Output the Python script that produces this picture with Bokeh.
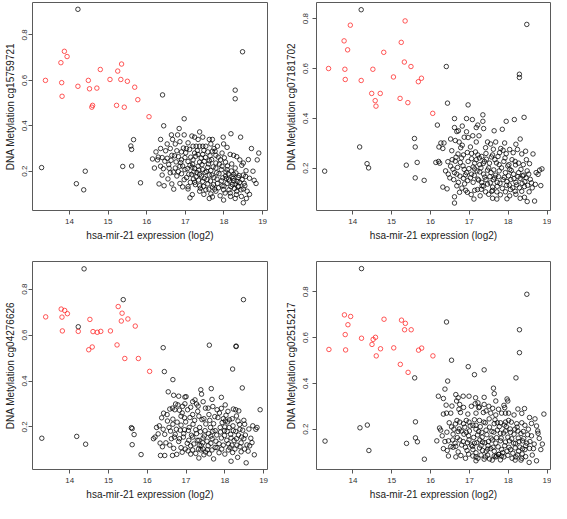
from bokeh.plotting import figure
from bokeh.layouts import column, row
from bokeh.models import FixedTicker, Range1d
from bokeh.embed import file_html
from bokeh.resources import INLINE

x_title = "hsa-mir-21 expression (log2)"
probes = ["cg15759721", "cg07181702", "cg04276626", "cg02515217"]
x_ticks = [14, 15, 16, 17, 18, 19]
y_ticks = [0.2, 0.4, 0.6, 0.8]

# samples with low miR-21 expression (red), same x in every panel
red_x = [13.38, 13.78, 13.80, 13.81, 13.87, 13.94, 14.22, 14.49, 14.52, 14.58, 14.60, 14.71,
         14.80, 15.05, 15.22, 15.25, 15.33, 15.35, 15.42, 15.50, 15.69, 15.77, 16.06]
red_y1 = [0.600, 0.678, 0.590, 0.530, 0.728, 0.705, 0.574, 0.600, 0.563, 0.482, 0.490, 0.566,
          0.648, 0.604, 0.490, 0.641, 0.604, 0.672, 0.482, 0.596, 0.570, 0.515, 0.440]
red_y2 = [0.600, 0.711, 0.597, 0.556, 0.675, 0.774, 0.552, 0.500, 0.597, 0.471, 0.449, 0.500,
          0.665, 0.566, 0.480, 0.705, 0.626, 0.791, 0.463, 0.608, 0.547, 0.561, 0.420]
red_y3 = [0.679, 0.713, 0.678, 0.618, 0.707, 0.693, 0.616, 0.536, 0.668, 0.548, 0.615, 0.612,
          0.616, 0.618, 0.557, 0.724, 0.661, 0.695, 0.498, 0.670, 0.639, 0.498, 0.442]
red_y4 = [0.548, 0.699, 0.613, 0.546, 0.656, 0.692, 0.597, 0.570, 0.592, 0.601, 0.520, 0.551,
          0.680, 0.555, 0.483, 0.676, 0.634, 0.662, 0.448, 0.634, 0.545, 0.554, 0.520]

# other samples outside the main cloud, same x in every panel
out_x = [13.28, 14.18, 14.22, 14.37, 14.41, 15.38, 15.59, 15.61, 15.61, 15.66, 15.84, 16.41,
         16.44, 16.97, 18.29, 18.29, 18.48]
out_y1 = [0.216, 0.145, 0.913, 0.118, 0.200, 0.221, 0.311, 0.296, 0.223, 0.339, 0.149, 0.536,
          0.400, 0.431, 0.557, 0.519, 0.726]
out_y2 = [0.188, 0.285, 0.836, 0.218, 0.201, 0.212, 0.319, 0.285, 0.161, 0.223, 0.151, 0.608,
          0.461, 0.454, 0.577, 0.564, 0.777]
out_y3 = [0.151, 0.159, 0.636, 0.888, 0.125, 0.754, 0.197, 0.193, 0.123, 0.167, 0.080, 0.545,
          0.441, 0.330, 0.552, 0.550, 0.754]
out_y4 = [0.148, 0.206, 0.901, 0.218, 0.107, 0.138, 0.424, 0.232, 0.162, 0.145, 0.069, 0.668,
          0.410, 0.473, 0.634, 0.534, 0.789]

# main cloud of high-expression samples, per panel (x, y)
cloud1 = [(16.84,.388),(17.37,.373),(17.98,.35),(18.18,.365),(18.43,.35),(16.36,.34),(16.64,.36),
    (16.67,.34),(16.80,.36),(16.97,.36),(17.17,.355),(17.24,.35),(17.33,.34),(17.45,.35),(17.62,.34),
    (17.70,.34),(16.53,.32),(16.74,.32),(16.86,.33),(17.07,.325),(17.20,.31),(17.28,.31),(17.37,.31),
    (17.45,.31),(17.53,.31),(17.66,.32),(17.74,.30),(17.83,.31),(17.99,.32),(18.08,.305),(18.71,.30),
    (18.90,.28),(16.24,.285),(16.36,.30),(16.49,.29),(16.61,.30),(16.78,.29),(16.90,.285),(17.03,.30),
    (17.24,.28),(17.33,.274),(17.45,.274),(17.58,.285),(17.70,.288),(17.79,.27),(17.95,.28),(18.16,.274),
    (18.25,.27),(18.33,.264),(16.15,.254),(16.28,.25),(16.40,.26),(16.53,.257),(16.65,.27),(16.82,.264),
    (16.90,.25),(16.99,.26),(17.07,.243),(17.20,.25),(17.37,.24),(17.49,.243),(17.62,.246),(17.79,.236),
    (17.91,.25),(18.04,.24),(18.20,.232),(18.50,.236),(18.41,.25),(16.20,.214),(16.36,.222),(16.57,.229),
    (16.74,.214),(16.86,.222),(16.99,.207),(17.12,.226),(17.24,.212),(17.33,.222),(17.45,.207),(17.58,.217),
    (17.66,.203),(17.79,.214),(17.95,.222),(18.08,.207),(18.29,.214),(18.46,.226),(18.75,.20),(16.40,.183),
    (16.61,.193),(16.78,.179),(16.90,.189),(17.03,.172),(17.16,.186),(17.28,.175),(17.37,.186),(17.49,.169),
    (17.62,.183),(17.74,.172),(17.87,.189),(18.04,.179),(18.12,.165),(18.25,.186),(18.37,.172),(18.50,.183),
    (18.66,.169),(16.32,.144),(16.45,.136),(16.65,.144),(16.86,.146),(17.07,.132),(17.24,.151),(17.37,.136),
    (17.45,.155),(17.58,.144),(17.70,.13),(17.83,.146),(17.95,.136),(18.08,.146),(18.18,.132),(18.29,.144),
    (18.41,.151),(18.54,.136),(18.83,.146),(17.07,.122),(17.37,.112),(17.53,.118),(17.66,.10),(17.79,.112),
    (17.99,.118),(18.16,.104),(18.33,.112),(18.50,.122),(18.66,.098),(17.12,.083),(17.62,.08),(17.70,.087),
    (17.99,.073),(18.29,.08),(18.50,.061),
    (16.72,.268),(16.88,.238),(16.95,.302),(17.01,.281),(17.11,.296),(17.14,.262),(17.19,.231),(17.22,.197),
    (17.27,.266),(17.31,.291),(17.35,.205),(17.41,.258),(17.43,.229),(17.48,.292),(17.52,.261),(17.55,.199),
    (17.6,.232),(17.64,.268),(17.68,.251),(17.72,.219),(17.77,.288),(17.81,.193),(17.85,.262),(17.88,.231),
    (17.93,.207),(17.97,.171),(18.01,.259),(18.05,.196),(18.09,.223),(18.11,.188),(18.14,.157),(18.19,.201),
    (18.22,.141),(18.24,.169),(18.27,.123),(18.31,.192),(18.34,.155),(18.36,.131),(18.39,.181),(18.44,.118),
    (18.47,.163),(18.52,.147),(18.57,.202),(18.6,.112),(18.63,.251),(18.78,.16),(18.86,.25),(16.58,.213),
    (16.63,.248),(16.69,.196),(16.76,.241),(16.82,.198),(16.93,.223),(16.97,.163),(17.05,.211),(17.09,.187),
    (17.13,.151),(17.17,.218),(17.21,.166),(17.26,.141),(17.3,.194),(17.34,.161),(17.39,.125),(17.42,.179),
    (17.47,.133),(17.51,.195),(17.56,.163),(17.61,.121),(17.65,.157),(17.69,.183),(17.73,.141),(17.76,.121),
    (17.82,.165),(17.86,.127),(17.9,.092),(17.94,.158),(18.0,.135),(18.03,.104),(18.06,.168),(18.13,.118),
    (18.17,.089),(18.21,.176),(18.26,.158),(18.32,.097),(18.38,.134),(18.45,.089),(18.56,.177),(16.47,.244),
    (16.43,.211),(16.3,.262),(16.55,.166),(16.7,.121),(16.93,.131),(17.18,.097),(17.48,.098),(18.58,.08)]
cloud2 = [(17.35,.414),(16.62,.399),(16.93,.399),(17.08,.395),(17.35,.388),(17.22,.373),(17.18,.363),
    (16.18,.373),(17.95,.388),(18.16,.395),(18.41,.404),(16.62,.363),(16.82,.369),(16.93,.346),(16.72,.35),
    (16.68,.347),(17.37,.359),(17.64,.35),(17.85,.356),(16.52,.317),(16.35,.301),(16.27,.301),(16.64,.311),
    (16.74,.305),(16.87,.324),(16.82,.292),(17.03,.285),(17.18,.305),(17.47,.305),(17.68,.305),(17.91,.301),
    (18.31,.317),(17.81,.279),(17.87,.272),(18.04,.275),(18.24,.275),(18.35,.257),(18.64,.257),(16.22,.285),
    (16.32,.279),(16.71,.257),(16.85,.253),(17.06,.259),(17.22,.253),(17.32,.247),(17.43,.259),(17.60,.253),
    (17.74,.247),(18.10,.234),(18.18,.227),(16.14,.223),(16.21,.227),(16.24,.22),(16.56,.234),(16.66,.244),
    (16.77,.223),(16.97,.227),(17.14,.22),(17.18,.234),(17.27,.214),(17.39,.227),(17.52,.22),(17.66,.234),
    (17.77,.214),(17.89,.227),(18.02,.214),(18.27,.22),(18.39,.214),(18.47,.234),(16.52,.208),(16.39,.189),
    (16.46,.176),(16.62,.182),(16.68,.176),(16.87,.195),(16.93,.182),(17.06,.176),(17.14,.197),(17.27,.185),
    (17.37,.176),(17.47,.192),(17.56,.182),(17.68,.172),(17.77,.189),(17.93,.182),(18.04,.195),(18.14,.176),
    (18.27,.182),(18.37,.169),(18.49,.189),(18.72,.182),(18.81,.192),(18.87,.197),(16.60,.154),(16.72,.143),
    (16.85,.159),(16.96,.15),(17.10,.143),(17.22,.156),(17.32,.143),(17.43,.154),(17.54,.141),(17.62,.154),
    (17.72,.143),(17.87,.154),(17.97,.146),(18.07,.154),(18.20,.143),(18.31,.159),(18.43,.146),(18.60,.141),
    (16.32,.124),(16.43,.117),(16.81,.12),(16.91,.111),(17.14,.111),(17.21,.114),(17.31,.115),(17.42,.105),
    (17.60,.111),(17.71,.105),(17.93,.105),(18.06,.114),(18.18,.107),(18.35,.107),(18.54,.105),(16.62,.085),
    (17.12,.076),(17.60,.079),(18.04,.089),(18.31,.079),(18.49,.066),(16.62,.06),(18.68,.068),(17.71,.076),
    (16.58,.196),(16.64,.228),(16.7,.203),(16.76,.168),(16.8,.241),(16.84,.209),(16.9,.173),(16.95,.263),
    (16.99,.198),(17.03,.161),(17.06,.238),(17.1,.205),(17.13,.171),(17.16,.265),(17.2,.189),(17.24,.152),
    (17.26,.241),(17.3,.201),(17.33,.129),(17.36,.219),(17.4,.164),(17.44,.236),(17.47,.136),(17.5,.201),
    (17.53,.166),(17.57,.245),(17.6,.124),(17.63,.193),(17.65,.161),(17.7,.221),(17.72,.127),(17.75,.166),
    (17.79,.139),(17.83,.201),(17.85,.119),(17.9,.163),(17.92,.241),(17.96,.131),(17.99,.209),(18.01,.169),
    (18.03,.132),(18.08,.191),(18.12,.121),(18.15,.158),(18.19,.213),(18.22,.133),(18.25,.166),(18.29,.121),
    (18.33,.195),(18.36,.139),(18.4,.172),(18.42,.126),(18.46,.161),(18.5,.131),(18.53,.176),(18.57,.155),
    (18.62,.121),(18.7,.135),(18.77,.175),(18.84,.13),(16.45,.226),(16.5,.161),(16.55,.27),(16.68,.129),
    (16.78,.282),(16.88,.137),(16.97,.323),(17.09,.33),(17.25,.33),(17.42,.282),(17.55,.297),(17.62,.276),
    (17.78,.262),(17.95,.258),(18.13,.262),(18.2,.296),(18.45,.268),(18.55,.218),(16.95,.103),(17.05,.094),
    (17.28,.089),(17.5,.095),(17.8,.093),(17.97,.077),(18.2,.095),(18.42,.083),(16.75,.103),(17.37,.128),
    (17.58,.107)]
cloud3 = [(16.66,.406),(18.20,.452),(18.45,.37),(18.91,.275),(17.60,.556),(16.54,.353),(16.68,.338),
    (16.81,.334),(17.00,.332),(17.38,.362),(17.40,.343),(17.65,.367),(17.91,.329),(17.67,.32),(18.01,.296),
    (18.22,.278),(18.28,.275),(18.36,.27),(17.17,.31),(17.23,.318),(17.27,.30),(16.73,.30),(16.79,.296),
    (16.65,.282),(16.71,.275),(16.91,.29),(17.04,.275),(17.50,.282),(17.57,.282),(17.80,.275),(16.37,.24),
    (16.51,.254),(16.87,.247),(16.96,.24),(17.17,.254),(17.33,.247),(17.46,.236),(17.59,.254),(17.74,.245),
    (17.86,.261),(17.96,.236),(18.01,.226),(18.07,.222),(18.19,.236),(18.34,.226),(18.49,.229),(18.51,.212),
    (18.72,.205),(18.83,.198),(16.24,.198),(16.31,.205),(16.41,.19),(16.56,.198),(16.66,.212),(16.75,.19),
    (16.87,.208),(16.96,.188),(17.08,.198),(17.18,.212),(17.25,.188),(17.35,.198),(17.49,.184),(17.63,.198),
    (17.75,.184),(17.88,.198),(17.99,.184),(18.11,.198),(18.22,.184),(18.39,.19),(16.16,.149),(16.20,.156),
    (16.28,.17),(16.62,.149),(16.70,.156),(16.83,.149),(16.93,.156),(17.07,.142),(17.17,.156),(17.29,.142),
    (17.33,.142),(17.44,.152),(17.54,.138),(17.67,.149),(17.77,.138),(17.91,.152),(18.05,.142),(18.16,.152),
    (18.30,.149),(18.43,.156),(18.49,.149),(18.70,.132),(16.39,.114),(16.58,.121),(16.68,.107),(16.87,.11),
    (16.98,.104),(17.12,.118),(17.17,.10),(17.32,.104),(17.38,.10),(17.44,.104),(17.57,.118),(17.67,.10),
    (17.80,.11),(17.92,.104),(18.09,.10),(18.13,.11),(18.26,.104),(18.39,.114),(18.51,.104),(18.64,.118),
    (16.34,.076),(16.45,.076),(16.65,.076),(17.12,.082),(17.46,.079),(17.71,.061),(18.16,.051),(18.55,.044),
    (18.76,.079),(18.33,.068),(17.33,.065),
    (16.6,.182),(16.66,.234),(16.72,.168),(16.77,.221),(16.81,.137),(16.85,.186),(16.9,.261),(16.94,.171),
    (16.99,.222),(17.03,.129),(17.06,.185),(17.1,.241),(17.14,.164),(17.2,.126),(17.22,.229),(17.27,.171),
    (17.3,.268),(17.34,.121),(17.37,.179),(17.41,.232),(17.43,.131),(17.47,.161),(17.51,.213),(17.55,.101),
    (17.58,.171),(17.61,.229),(17.64,.129),(17.69,.181),(17.71,.214),(17.75,.111),(17.79,.165),(17.82,.241),
    (17.85,.127),(17.89,.178),(17.93,.219),(17.96,.121),(17.99,.163),(18.03,.251),(18.06,.181),(18.09,.127),
    (18.12,.231),(18.15,.168),(18.18,.121),(18.21,.205),(18.24,.141),(18.28,.181),(18.31,.121),(18.35,.165),
    (18.38,.211),(18.42,.131),(18.46,.186),(18.53,.165),(18.57,.122),(18.62,.191),(18.67,.151),(18.8,.19),
    (16.45,.168),(16.48,.131),(16.52,.226),(16.33,.13),(16.42,.26),(16.58,.278),(16.83,.273),(16.97,.301),
    (17.12,.286),(17.31,.291),(17.44,.31),(17.69,.289),(17.91,.281),(18.08,.268),(18.3,.248),(16.76,.081),
    (16.9,.09),(17.05,.096),(17.25,.085),(17.5,.091),(17.6,.083),(17.85,.088),(18.0,.082),(18.2,.089),
    (18.42,.092),(18.6,.095),(17.39,.12),(17.64,.16),(18.0,.2)]
cloud4 = [(16.54,.501),(17.38,.459),(17.13,.438),(18.20,.424),(16.37,.375),(16.20,.344),(16.33,.334),
    (16.65,.351),(16.71,.337),(16.84,.344),(16.99,.344),(17.16,.337),(17.38,.339),(17.62,.379),(17.64,.355),
    (17.68,.323),(17.97,.332),(17.99,.323),(16.67,.323),(16.75,.308),(17.22,.315),(17.26,.297),(17.38,.308),
    (17.89,.304),(17.91,.294),(16.33,.266),(16.41,.27),(16.52,.27),(16.73,.287),(16.77,.273),(16.96,.266),
    (17.17,.27),(17.24,.294),(17.36,.273),(17.43,.28),(17.55,.27),(17.68,.262),(17.83,.27),(17.93,.27),
    (18.01,.27),(18.35,.269),(18.42,.29),(18.69,.245),(18.92,.266),(16.23,.205),(16.26,.196),(16.54,.21),
    (16.60,.20),(16.68,.238),(16.75,.231),(16.85,.224),(16.92,.238),(16.99,.231),(17.09,.217),(17.17,.217),
    (17.26,.238),(17.41,.228),(17.51,.245),(17.64,.224),(17.72,.228),(17.80,.228),(17.93,.231),(18.01,.238),
    (18.08,.231),(18.22,.224),(18.35,.228),(18.43,.217),(18.73,.214),(16.71,.19),(16.79,.192),(16.92,.186),
    (17.00,.192),(17.17,.20),(17.24,.19),(17.32,.186),(17.43,.196),(17.58,.19),(17.72,.196),(17.80,.182),
    (17.93,.192),(18.06,.186),(18.17,.20),(18.25,.192),(18.39,.19),(18.52,.20),(18.76,.192),(18.77,.182),
    (16.16,.149),(16.37,.146),(16.46,.149),(16.57,.153),(16.63,.139),(16.75,.153),(16.84,.146),(16.99,.153),
    (17.13,.139),(17.27,.153),(17.34,.144),(17.49,.146),(17.59,.153),(17.68,.139),(17.80,.149),(17.93,.144),
    (18.03,.149),(18.14,.139),(18.28,.146),(18.37,.149),(18.48,.139),(18.56,.146),(16.33,.115),(16.43,.107),
    (16.58,.121),(16.65,.125),(16.71,.101),(16.90,.121),(16.94,.107),(17.09,.111),(17.17,.097),(17.26,.118),
    (17.34,.107),(17.43,.104),(17.55,.115),(17.64,.104),(17.70,.083),(17.75,.09),(17.83,.111),(17.97,.104),
    (18.06,.111),(18.18,.118),(18.27,.104),(18.37,.115),(18.43,.111),(18.65,.115),(18.84,.111),(16.46,.083),
    (16.65,.079),(17.09,.083),(17.17,.079),(17.30,.087),(17.41,.079),(17.47,.087),(17.64,.083),(17.68,.079),
    (17.76,.09),(17.83,.083),(17.89,.079),(18.10,.073),(18.20,.079),(18.35,.073),(18.33,.065),(18.54,.055),
    (18.73,.062),(17.17,.062),(17.38,.069),(17.59,.065),(16.90,.073),(18.18,.065),
    (16.58,.178),(16.64,.223),(16.69,.163),(16.74,.201),(16.8,.131),(16.86,.178),(16.88,.209),(16.95,.141),
    (16.98,.171),(17.02,.214),(17.05,.131),(17.11,.164),(17.13,.241),(17.19,.141),(17.21,.175),(17.28,.211),
    (17.3,.128),(17.33,.165),(17.37,.231),(17.4,.141),(17.45,.176),(17.47,.113),(17.52,.209),(17.56,.161),
    (17.61,.121),(17.63,.187),(17.66,.241),(17.7,.163),(17.74,.123),(17.77,.211),(17.82,.161),(17.86,.098),
    (17.88,.183),(17.91,.128),(17.95,.211),(17.99,.165),(18.02,.121),(18.05,.201),(18.09,.158),(18.12,.095),
    (18.15,.178),(18.19,.138),(18.23,.209),(18.26,.161),(18.3,.122),(18.33,.181),(18.36,.092),(18.4,.159),
    (18.45,.128),(18.5,.176),(18.55,.116),(18.6,.171),(18.67,.135),(18.8,.16),(18.88,.135),(16.42,.187),
    (16.48,.228),(16.52,.124),(16.3,.171),(16.4,.305),(16.55,.301),(16.85,.295),(17.05,.3),(17.15,.311),
    (17.5,.3),(17.6,.291),(17.75,.287),(18.15,.262),(18.25,.288),(18.55,.251),(18.6,.225),(16.78,.085),
    (16.98,.091),(17.22,.073),(17.52,.07),(17.8,.066),(17.99,.086),(18.24,.088),(18.45,.08),(18.62,.087),
    (17.08,.125),(17.48,.128),(17.9,.218)]

FONT = "Liberation Sans"

def panel(probe, red_y, out_y, cloud, w, h, borders, xr, yr, ystand, ylabstand):
    l, r, t, b = borders
    p = figure(width=w, height=h, output_backend="svg", toolbar_location=None,
               x_range=Range1d(*xr), y_range=Range1d(*yr),
               min_border_left=l, min_border_right=r, min_border_top=t, min_border_bottom=b)
    p.grid.visible = False
    p.outline_line_color = "#5a5a5a"
    p.outline_line_width = 1
    p.background_fill_color = "white"
    p.border_fill_color = "white"
    for ax in (p.xaxis[0], p.yaxis[0]):
        ax.axis_line_color = None
        ax.major_tick_line_color = "#555555"
        ax.major_tick_in = 0
        ax.major_tick_out = 4
        ax.minor_tick_line_color = None
        ax.major_label_text_font = FONT
        ax.major_label_text_font_size = "8px"
        ax.major_label_text_color = "#333333"
        ax.axis_label_text_font = FONT
        ax.axis_label_text_font_size = "10px"
        ax.axis_label_text_font_style = "normal"
        ax.axis_label_text_color = "#222222"
    p.xaxis.ticker = FixedTicker(ticks=x_ticks)
    p.yaxis.ticker = FixedTicker(ticks=y_ticks)
    p.xaxis.axis_label = x_title
    p.yaxis.axis_label = "DNA Metylation " + probe
    p.xaxis.major_label_standoff = 4
    p.xaxis.axis_label_standoff = 3
    p.yaxis.major_label_orientation = "parallel"
    p.yaxis.major_label_standoff = ystand
    p.yaxis.axis_label_standoff = ylabstand
    cx = [c[0] for c in cloud]
    cy = [c[1] for c in cloud]
    p.scatter(cx, cy, marker="circle", size=4.5, fill_color=None, line_color="black",
              line_alpha=0.75, line_width=1)
    p.scatter(out_x, out_y, marker="circle", size=4.5, fill_color=None, line_color="black",
              line_alpha=0.75, line_width=1)
    p.scatter(red_x, red_y, marker="circle", size=4.5, fill_color=None, line_color="#ff2020",
              line_alpha=0.75, line_width=1)
    return p

p1 = panel(probes[0], red_y1, out_y1, cloud1, 275, 251, (32, 8, 2, 41),
           (13.045, 19.126), (0.027, 0.943), 1, 4)
p2 = panel(probes[1], red_y2, out_y2, cloud2, 276, 251, (41, 1, 2, 41),
           (13.07, 19.09), (0.030, 0.865), 4, 4)
p3 = panel(probes[2], red_y3, out_y3, cloud3, 275, 252, (32, 8, 10, 34),
           (13.04, 19.10), (0.015, 0.920), 1, 4)
p4 = panel(probes[3], red_y4, out_y4, cloud4, 276, 252, (41, 1, 10, 34),
           (13.06, 19.09), (0.024, 0.932), 4, 4)

layout = column(row(p1, p2), row(p3, p4))
open("out.html", "w").write(file_html(layout, INLINE))
